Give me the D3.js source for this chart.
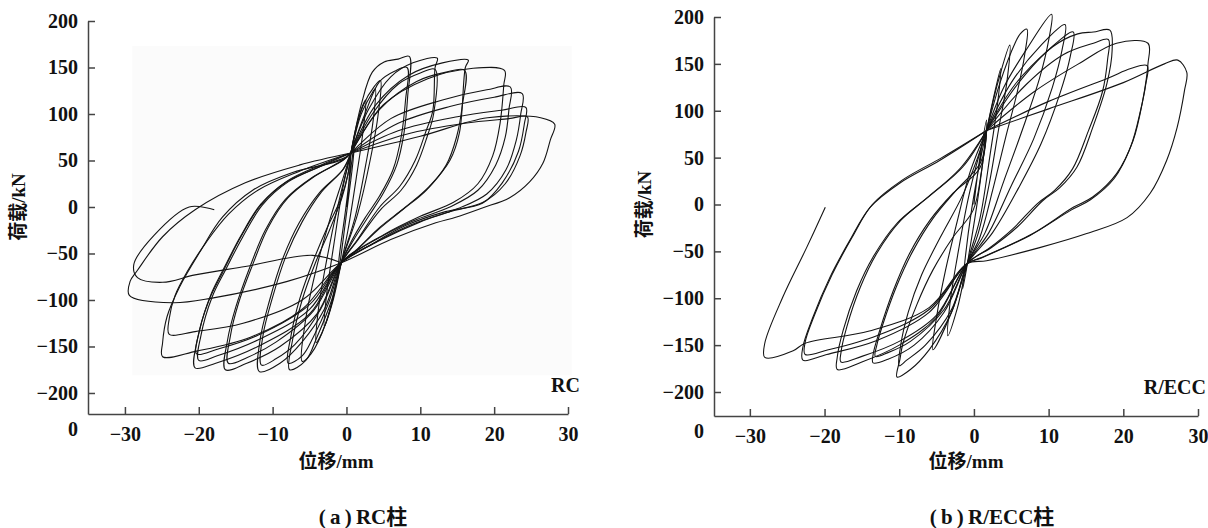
<!DOCTYPE html>
<html>
<head>
<meta charset="utf-8">
<script src="https://cdn.jsdelivr.net/npm/d3@7"></script>
<style>
body { margin: 0; background: #fff; }
</style>
</head>
<body>
<svg id="chart" width="1208" height="528"></svg>
<script>
// tick values shared by both panels
const yTicks = [-200, -150, -100, -50, 0, 50, 100, 150, 200];
const xTicks = [-30, -20, -10, 0, 10, 20, 30];

// RC column, [displacement mm, load kN], one array per cycle
const rc1 = [[0,0],[0.5,35],[1.1,72],[0.9,50],[0.2,5],[-0.5,-38],[-1.2,-78],[-1,-55],[-0.2,-8],[0.3,25],[0.6,58]];
const rc2 = [[0.6,58],[1.6,95],[2.6,115],[2.3,85],[1.4,35],[0.2,-25],[-0.7,-60],[-1.8,-100],[-3,-128],[-2.7,-95],[-1.7,-40],[-0.5,20],[0.6,58]];
const rc3 = [[0.6,58],[2,100],[3.3,120],[3.9,127],[3.6,92],[2.6,45],[1.2,-10],[-0.7,-60],[-2.2,-110],[-3.6,-140],[-4.1,-146],[-3.8,-110],[-2.7,-58],[-1.2,0],[0.6,58]];
const rc4 = [[0.6,58],[2.2,108],[3.8,130],[4.6,136],[4.3,100],[3.2,50],[1.5,-8],[-0.7,-60],[-2.8,-125],[-4.8,-158],[-6,-166],[-5.6,-125],[-4.2,-70],[-2.3,-15],[-0.5,30],[0.6,58]];
const rc5 = [[0.6,58],[2,110],[3.5,145],[5.1,156],[7,159],[8.5,162],[8.3,120],[7.8,80],[6.8,45],[5,15],[3,-10],[1,-35],[-0.7,-60],[-2,-100],[-4,-140],[-5.5,-165],[-7.7,-175],[-7.3,-143],[-6,-100],[-4.2,-60],[-2.3,-25],[-0.6,10],[0.2,35],[0.6,58]];
const rc6 = [[0.6,58],[2.5,100],[4.5,135],[6.5,146],[8.2,150],[8,115],[7.4,75],[6.3,40],[4.5,12],[2.5,-12],[0.6,-38],[-0.7,-60],[-2.5,-105],[-4.5,-140],[-6,-160],[-7.9,-168],[-7.5,-138],[-6.3,-98],[-4.5,-58],[-2.6,-22],[-0.8,8],[0.2,35],[0.6,58]];
const rc7 = [[0.6,58],[3,105],[6,140],[9,155],[12.3,160],[12,150],[11.7,104],[10.7,80],[9.3,50],[7.2,22],[4.5,0],[1.5,-35],[-0.7,-60],[-3,-110],[-6,-145],[-9,-168],[-11.8,-177],[-11.7,-143],[-10.4,-100],[-8.7,-57],[-6.4,-17],[-3.7,15],[-0.5,40],[0.6,58]];
const rc8 = [[0.6,58],[3.5,100],[7,132],[10,144],[12,148],[11.8,100],[10.9,75],[9.5,45],[7.4,18],[4.6,-3],[1.5,-36],[-0.7,-60],[-3.5,-110],[-7,-148],[-9.5,-163],[-11.5,-170],[-11.3,-138],[-10,-97],[-8.3,-55],[-6,-16],[-3.4,16],[-0.4,41],[0.6,58]];
const rc9 = [[0.6,58],[4,110],[8.5,142],[13,155],[16.5,158],[16.1,150],[15.3,80],[14,50],[11.2,22],[8,0],[4.5,-22],[1.5,-45],[-0.7,-60],[-4,-115],[-9,-150],[-13.5,-168],[-16.4,-175],[-16.1,-143],[-15,-108],[-13.1,-65],[-11,-25],[-8.3,8],[-4.6,32],[-0.5,50],[0.6,58]];
const rc10 = [[0.6,58],[4.5,105],[9.5,135],[13.5,145],[16,147],[15.7,110],[14.9,75],[13.5,45],[10.8,18],[7.6,-3],[4.2,-25],[1.3,-47],[-0.7,-60],[-4.5,-112],[-9.5,-145],[-13.5,-162],[-16,-168],[-15.7,-138],[-14.6,-103],[-12.7,-62],[-10.6,-22],[-7.9,10],[-4.3,33],[-0.4,51],[0.6,58]];
const rc11 = [[0.6,58],[5,110],[11,138],[16.9,149],[21.4,147],[21.3,131],[20.8,90],[19.8,55],[17.8,25],[14.5,5],[10,-10],[5,-30],[-0.7,-60],[-5,-115],[-12,-150],[-17.7,-168],[-20.5,-173],[-20.2,-143],[-18.6,-100],[-16.8,-71],[-14.5,-35],[-11.8,0],[-8.3,26],[-3.7,43],[0,54],[0.6,58]];
const rc12 = [[0.6,58],[6,95],[13,115],[19,126],[22.2,129],[22,105],[21.5,75],[20.2,45],[17.8,18],[14,0],[9,-15],[4,-35],[-0.7,-60],[-5,-110],[-12,-143],[-17.5,-160],[-20,-165],[-19.7,-138],[-18.2,-97],[-16.4,-68],[-14.1,-33],[-11.4,2],[-7.9,27],[-3.4,44],[0.6,58]];
const rc13 = [[0.6,58],[7,90],[14,108],[20,118],[23.8,122],[23.6,100],[23,72],[21.6,40],[19,14],[15,-2],[10,-16],[4.5,-36],[-0.7,-60],[-5,-105],[-12,-138],[-17.5,-153],[-20.3,-158],[-19.9,-133],[-18.4,-95],[-16.6,-66],[-14.3,-31],[-11.6,3],[-8,28],[-3.5,45],[0.6,58]];
const rc14 = [[0.6,58],[7,82],[15,97],[21,104],[24.3,107],[24.1,90],[23.3,60],[21.1,26],[18.4,4],[13.4,-5],[8,-20],[3,-42],[-0.7,-60],[-6,-110],[-13,-140],[-20.3,-155],[-24.9,-161],[-24.9,-146],[-24.3,-118],[-22.6,-86],[-19.9,-49],[-16.8,-11],[-12.7,18],[-7.3,37],[-0.5,51],[0.6,58]];
const rc15 = [[0.6,58],[8,78],[16,90],[22,95],[24.5,97],[24.3,80],[23.5,55],[21.5,25],[18.5,5],[14,-5],[8.5,-20],[3.5,-40],[-0.7,-60],[-6,-100],[-14,-125],[-20.5,-134],[-24,-137],[-24,-120],[-23.2,-95],[-21.6,-70],[-19,-38],[-16,-8],[-12,18],[-6.5,38],[0.6,58]];
const rc16 = [[0.6,58],[10,76],[19.1,96],[26.3,96],[28.2,89],[27.6,72],[26.6,47],[24.8,27],[22.1,10],[18.4,-1],[14.8,-11],[12.1,-17],[6,-35],[-0.7,-60],[-8,-80],[-18.2,-98],[-23.6,-103],[-29.4,-95],[-29.3,-80],[-28.3,-68],[-24.9,-32],[-20.5,-3],[-13.7,26],[-6.4,45],[0.6,58]];
const rc17 = [[-0.7,-60],[-4.6,-52],[-13.7,-64],[-20.5,-73],[-24.9,-81],[-28.3,-76],[-28.8,-62],[-26,-30],[-21.3,0],[-17.9,-3]];
const rcLoops = [rc1, rc2, rc3, rc4, rc5, rc6, rc7, rc8, rc9, rc10, rc11, rc12, rc13, rc14, rc15, rc16, rc17];

// R/ECC column
const ec1 = [[0,0],[0.8,50],[1.7,90],[1.4,60],[0.5,5],[-0.5,-45],[-1.5,-90],[-1.2,-60],[-0.3,-5],[0.8,45],[1.7,79]];
const ec2 = [[1.7,79],[2.8,120],[3.6,145],[3.2,110],[2.2,55],[0.8,-15],[-0.9,-63],[-2.2,-110],[-3.5,-140],[-3.2,-105],[-2.2,-55],[-0.8,5],[0.6,50],[1.7,79]];
const ec3 = [[1.7,79],[3.2,130],[4.8,170],[4.4,130],[3.3,80],[2,20],[0.6,-30],[-0.9,-63],[-3,-115],[-5.5,-155],[-5,-120],[-3.8,-70],[-2.3,-20],[-0.5,35],[1.7,79]];
const ec4 = [[1.7,79],[3.5,130],[5.5,172],[6.2,182],[7.1,187],[6.8,160],[5.8,120],[4.2,70],[2.5,15],[0.8,-35],[-0.9,-63],[-3,-115],[-6,-155],[-8.5,-176],[-10.3,-184],[-9.9,-165],[-9.5,-148],[-7.6,-106],[-5.5,-70],[-2.8,-35],[-0.1,-6],[1,35],[1.7,79]];
const ec5 = [[1.7,79],[4,125],[7,165],[10.4,203],[10,175],[8.8,135],[6.5,80],[4,25],[1.5,-30],[-0.9,-63],[-3,-112],[-6.5,-150],[-9,-166],[-10,-172],[-9.8,-150],[-8.8,-115],[-7,-75],[-4.5,-35],[-1.5,10],[0.5,50],[1.7,79]];
const ec6 = [[1.7,79],[5,130],[9,170],[12.2,192],[11.8,165],[10.5,125],[8,70],[5,20],[2,-30],[-0.9,-63],[-4,-115],[-8,-150],[-11.5,-165],[-13.5,-169],[-13.5,-160],[-12.6,-134],[-10.8,-92],[-8.6,-52],[-5.9,-17],[-2.8,12],[0.8,39],[1.7,79]];
const ec7 = [[1.7,79],[5.5,128],[10,165],[13.3,184],[12.9,158],[11.5,118],[9,65],[6,18],[2.5,-30],[-0.9,-63],[-4,-112],[-8.5,-146],[-11.5,-158],[-13.2,-162],[-13,-150],[-12.2,-128],[-10.4,-88],[-8.2,-50],[-5.5,-15],[-2.5,14],[0.9,45],[1.7,79]];
const ec8 = [[1.7,79],[6,130],[10.5,168],[13.9,182],[16,184],[18.2,186],[18.5,164],[17.8,129],[15.9,82],[13.8,40],[11.5,18],[9.2,4],[5.8,-24],[2.5,-45],[-0.9,-63],[-5,-120],[-10,-150],[-15,-168],[-18.3,-176],[-18.3,-163],[-17.5,-134],[-15.7,-92],[-13.5,-56],[-10.3,-20],[-6.3,7],[-1.9,38],[1.7,79]];
const ec9 = [[1.7,79],[7,128],[12,160],[16,172],[18,176],[17.9,155],[17.2,120],[15.3,78],[13.2,38],[10.8,15],[8.5,1],[5.2,-26],[2,-47],[-0.9,-63],[-5,-118],[-10,-146],[-15,-162],[-17.8,-168],[-17.8,-158],[-17,-130],[-15.2,-88],[-13,-52],[-9.8,-17],[-5.8,10],[-1.5,40],[1.7,79]];
const ec10 = [[1.7,79],[8,120],[14,150],[19.1,172],[23.3,172],[23.3,150],[22.6,111],[21.3,68],[19.1,33],[15.9,8],[13.3,-3],[7.9,-31],[1.2,-56],[-0.9,-63],[-6,-115],[-13,-145],[-19.7,-160],[-22.9,-166],[-22.9,-152],[-21.6,-121],[-19.3,-78],[-16.6,-38],[-13.9,-3],[-9.9,23],[-4.6,47],[1.7,79]];
const ec11 = [[1.7,79],[10,110],[18,135],[21,145],[23.2,148],[23,128],[22.3,100],[21,62],[18.8,28],[15.6,5],[13,-6],[7.5,-33],[1,-57],[-0.9,-63],[-6,-112],[-13,-140],[-19.5,-155],[-22.6,-160],[-22.6,-147],[-21.3,-117],[-19,-75],[-16.3,-35],[-13.6,0],[-9.6,26],[-4.3,50],[1.7,79]];
const ec12 = [[1.7,79],[10,102],[20,130],[25.5,150],[27.3,154],[28.5,141],[28.2,122],[27.2,82],[25.8,47],[23.6,12],[20.5,-14],[15.1,-31],[8.8,-46],[1.7,-60],[-0.9,-63],[-6,-110],[-14,-135],[-22.6,-148],[-24.2,-156],[-28,-163],[-28,-148],[-25.6,-99],[-22.4,-46],[-19.9,-3]];
const ecLoops = [ec1, ec2, ec3, ec4, ec5, ec6, ec7, ec8, ec9, ec10, ec11, ec12];

const svg = d3.select('#chart');
const serif = '"Liberation Serif", "Noto Sans CJK SC", serif';

function label(g, size) {
    return g.append('text')
        .style('font-family', serif)
        .style('font-weight', 'bold')
        .style('font-size', (size || 20) + 'px')
        .attr('fill', '#111');
}

function drawPanel(loops, xd, xr, yd, yr, tag, caption, shade) {
    const x = d3.scaleLinear().domain(xd).range(xr);
    const y = d3.scaleLinear().domain(yd).range(yr);
    const g = svg.append('g');

    // faint scan background behind the RC plot
    if (shade) {
        g.append('rect')
            .attr('x', x(-29)).attr('y', y(173))
            .attr('width', x(30.5) - x(-29)).attr('height', y(-181) - y(173))
            .attr('fill', '#fbfbfb');
    }

    const line = d3.line()
        .x(d => x(d[0]))
        .y(d => y(d[1]))
        .curve(d3.curveCatmullRom.alpha(0.5));

    g.selectAll('path.loop')
        .data(loops)
        .enter()
        .append('path')
        .attr('class', 'loop')
        .attr('d', line)
        .attr('fill', 'none')
        .attr('stroke', '#141414')
        .attr('stroke-width', 1.1);

    const yAxis = g.append('g')
        .attr('transform', `translate(${xr[0]},0)`)
        .call(d3.axisLeft(y).tickValues(yTicks).tickSize(-7).tickSizeOuter(0).tickPadding(10));
    const xAxis = g.append('g')
        .attr('transform', `translate(0,${yr[0]})`)
        .call(d3.axisBottom(x).tickValues(xTicks).tickSize(-7).tickSizeOuter(0).tickPadding(13));
    [yAxis, xAxis].forEach(a => {
        a.selectAll('path, line').attr('stroke', '#444').attr('stroke-width', 1.5);
        a.selectAll('text')
            .style('font-family', serif)
            .style('font-weight', 'bold')
            .style('font-size', '20px')
            .attr('fill', '#111');
    });

    // origin label under the corner
    label(g).attr('x', xr[0] - 10).attr('y', yr[0] + 22)
        .attr('text-anchor', 'end').text('0');

    label(g).attr('x', tag.x).attr('y', yr[0] - 22)
        .attr('text-anchor', 'end').text(tag.text);

    label(g, 19)
        .attr('transform', `translate(${xr[0] - 63},${y(0)}) rotate(-90)`)
        .attr('text-anchor', 'middle').text('荷载/kN');

    label(g, 19)
        .attr('x', caption.axisX).attr('y', 468)
        .attr('text-anchor', 'middle').text('位移/mm');

    label(g, 21)
        .attr('x', caption.x).attr('y', 524)
        .attr('text-anchor', 'middle').text(caption.text);
}

drawPanel(rcLoops, [-35, 30], [88, 568], [-222.6, 200], [414, 21],
    {x: 580, text: 'RC'}, {x: 363, axisX: 336, text: '(\u2009a\u2009)\u2009RC柱'}, true);
drawPanel(ecLoops, [-34.8, 30], [714, 1198], [-225.6, 200], [416, 17],
    {x: 1206, text: 'R/ECC'}, {x: 992, axisX: 966, text: '(\u2009b\u2009)\u2009R/ECC柱'}, false);
</script>
</body>
</html>
